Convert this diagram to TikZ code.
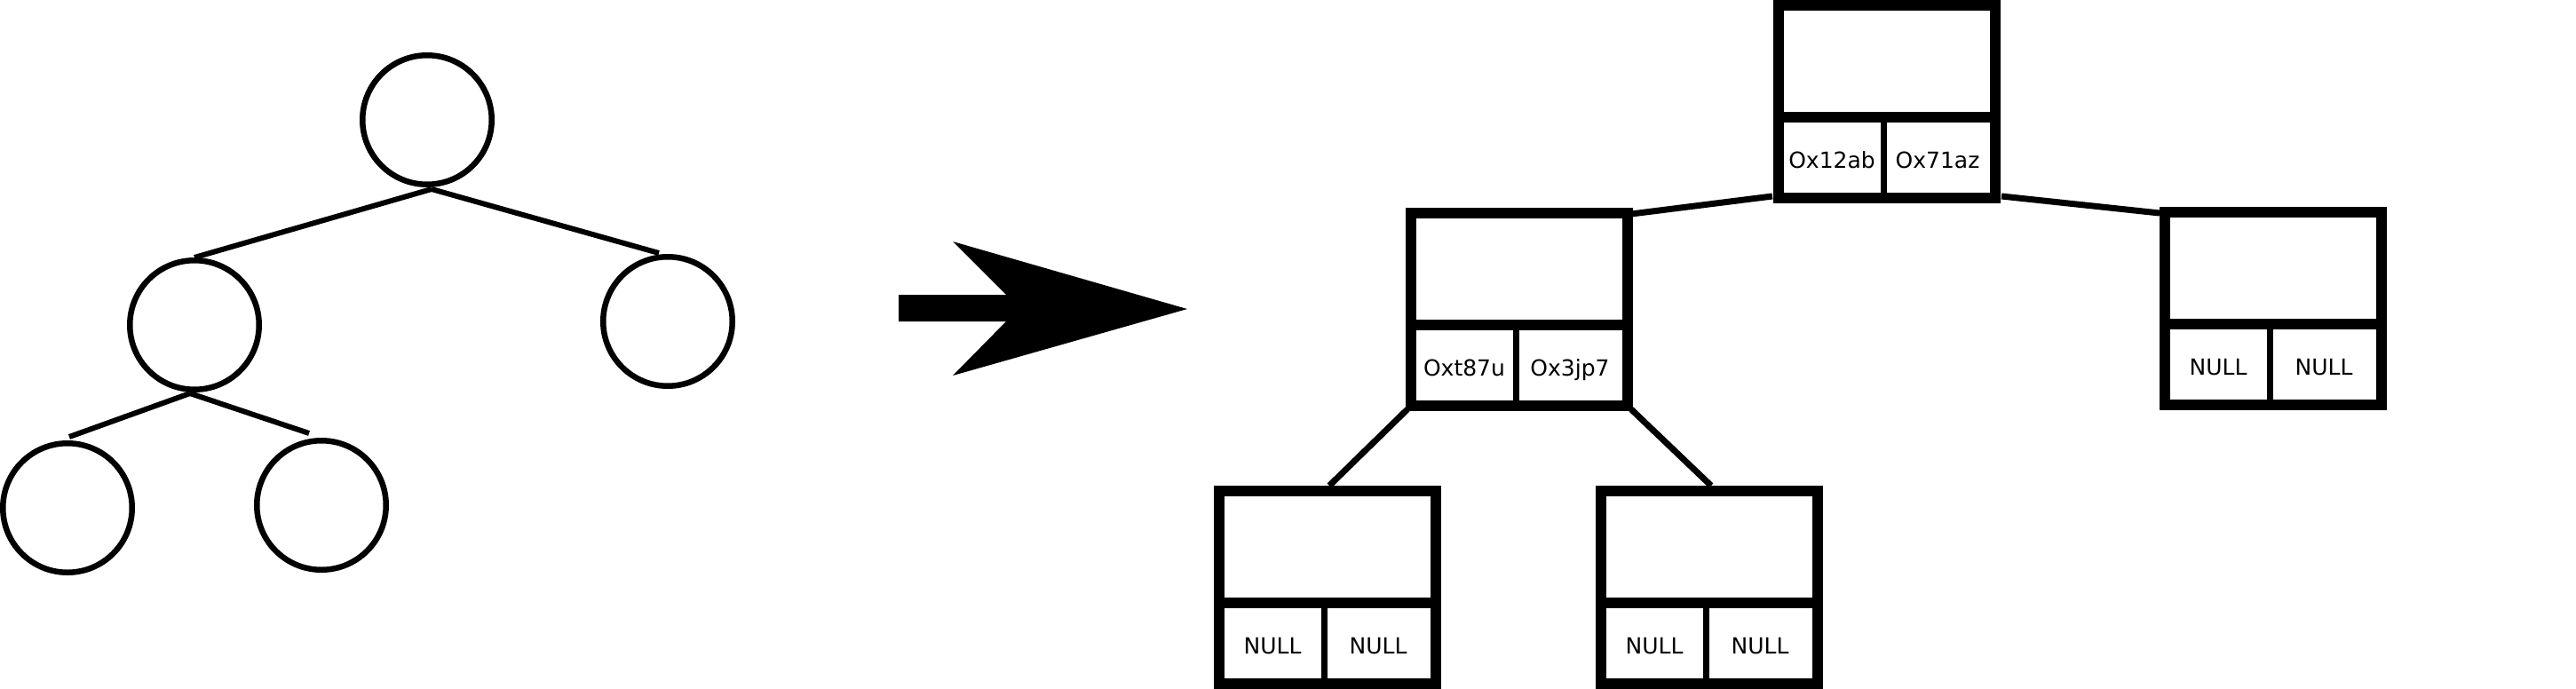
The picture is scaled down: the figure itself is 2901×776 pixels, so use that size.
\documentclass[tikz,border=0pt]{standalone}
\usepackage{fontspec}
\setmainfont{DejaVu Sans}
\usetikzlibrary{calc}
\newcommand\ptrbox[4]{%
  \node[box] (#1) at (#2) {};
  \draw[bar] ($(#1.west)+(0,17.5)$) -- ($(#1.east)+(0,17.5)$);
  \draw[divider] ($(#1.center)+(-4,17.5)$) -- ($(#1.center)+(-4,108.5)$);
  \node[ptr] (#1-l) at ($(#1.center)+(-62,74.5)$) {#3};
  \node[ptr] (#1-r) at ($(#1.center)+(57,74.5)$) {#4};
}
\begin{document}
\begin{tikzpicture}[x=1pt,y=-1pt,
  tnode/.style={circle,draw=black,line width=6.5pt,minimum size=145.5pt,inner sep=0pt},
  tedge/.style={line width=6pt},
  box/.style={draw=black,fill=white,line width=12pt,minimum width=244pt,minimum height=217pt,inner sep=0pt,outer sep=0pt},
  bar/.style={line width=12pt},
  divider/.style={line width=7pt},
  ptr/.style={font=\fontsize{25}{30}\selectfont,anchor=base,inner sep=0pt},
  bedge/.style={line width=7pt}]
\useasboundingbox (0,0) rectangle (2901,776);

% left tree
\node[tnode] (r) at (481,135) {};
\node[tnode] (a) at (219,366) {};
\node[tnode] (b) at (752,362) {};
\node[tnode] (c) at (76,572) {};
\node[tnode] (d) at (362,569) {};
\draw[tedge] ($(r.south)+(5,2)$) -- (a.north);
\draw[tedge] ($(r.south)+(5,2)$) -- ($(b.north)+(-10,-1)$);
\draw[tedge] ($(a.south)+(-5,1)$) -- ($(c.north)+(2,-4)$);
\draw[tedge] ($(a.south)+(-5,1)$) -- ($(d.north)+(-14,-5)$);

% arrow
\fill (1012,332) -- (1133,332) -- (1073,272) -- (1337,348) -- (1073,423) -- (1133,362) -- (1012,362) -- cycle;

% right tree
\ptrbox{rt}{2125,114.5}{Ox12ab}{Ox71az}
\ptrbox{lc}{1711,348.5}{Oxt87u}{Ox3jp7}
\ptrbox{rc}{2560,347.5}{NULL}{NULL}
\ptrbox{ll}{1495,661.5}{NULL}{NULL}
\ptrbox{lr}{1925,661.5}{NULL}{NULL}

\draw[bedge] ($(rt.south west)+(-7,-2)$) -- ($(lc.north east)+(4,1)$);
\draw[bedge] ($(rt.south east)+(7,-2)$) -- ($(rc.north west)+(-6,1)$);
\draw[bedge] ($(lc.south west)+(-4,4)$) -- ($(ll.north)+(2,-6)$);
\draw[bedge] ($(lc.south east)+(4,4)$) -- ($(lr.north)+(2,-6)$);
\end{tikzpicture}
\end{document}
